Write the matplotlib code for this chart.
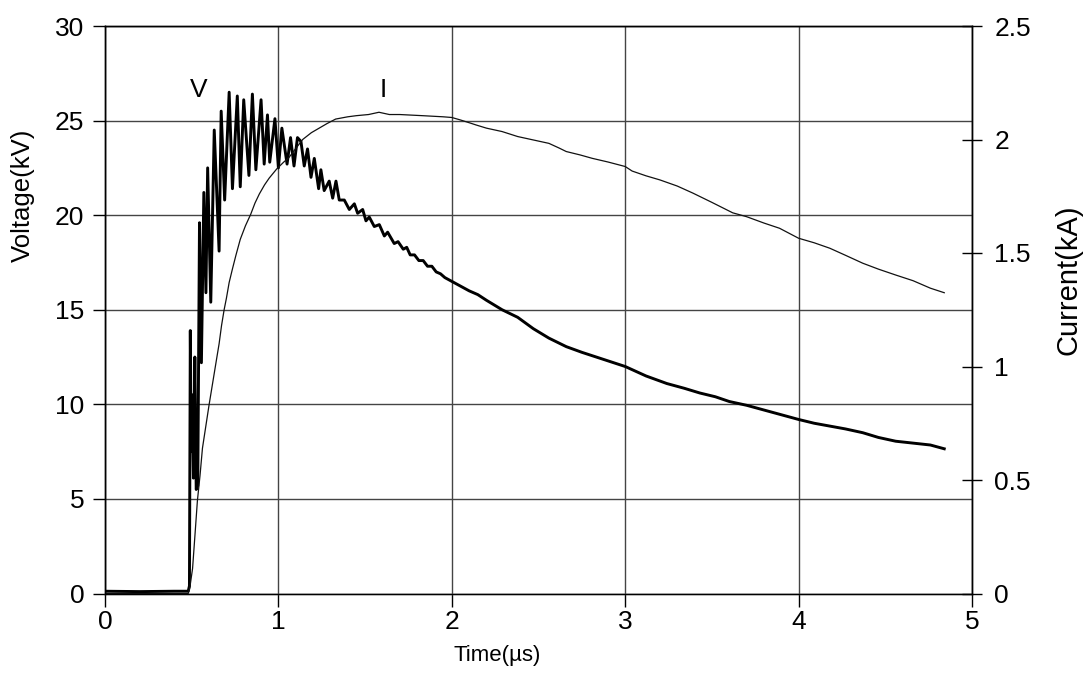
import matplotlib
matplotlib.use("Agg")
import matplotlib.pyplot as plt
import numpy as np

plt.rcParams["font.family"] = ["Liberation Sans", "DejaVu Sans"]
plt.rcParams["font.size"] = 19

# Voltage trace (kV) against time (us)
v_time = [
    0.00, 0.20, 0.40, 0.48, 0.487, 0.492, 0.497, 0.503, 0.510, 0.518,
    0.526, 0.535, 0.545, 0.556, 0.570, 0.582, 0.592, 0.610, 0.630, 0.658,
    0.670, 0.690, 0.716, 0.735, 0.763, 0.780, 0.800, 0.830, 0.850, 0.870,
    0.900, 0.918, 0.937, 0.950, 0.980, 1.000, 1.020, 1.050, 1.070, 1.090,
    1.110, 1.130, 1.149, 1.168, 1.188, 1.207, 1.232, 1.245, 1.264, 1.293,
    1.313, 1.332, 1.351, 1.380, 1.409, 1.438, 1.457, 1.486, 1.505, 1.524,
    1.553, 1.582, 1.611, 1.630, 1.668, 1.690, 1.720, 1.740, 1.760, 1.785,
    1.810, 1.835, 1.860, 1.885, 1.910, 1.935, 1.960, 2.000, 2.050, 2.100,
    2.150, 2.200, 2.290, 2.380, 2.470, 2.560, 2.660, 2.750, 2.850, 3.000,
    3.120, 3.240, 3.340, 3.430, 3.520, 3.600, 3.700, 3.800, 3.900, 4.000,
    4.090, 4.180, 4.270, 4.370, 4.460, 4.560, 4.660, 4.760, 4.840,
]
v_kv = [
    0.12, 0.10, 0.12, 0.12, 0.4, 13.9, 7.5, 10.5, 6.1, 12.5,
    5.5, 5.7, 19.6, 12.2, 21.2, 15.9, 22.5, 15.4, 24.5, 18.1,
    25.5, 20.8, 26.5, 21.4, 26.3, 21.5, 26.1, 22.1, 26.4, 22.4,
    26.1, 22.7, 25.3, 22.8, 25.1, 22.5, 24.6, 22.7, 24.1, 22.6,
    24.1, 23.9, 22.6, 23.5, 22.0, 23.0, 21.4, 22.4, 21.3, 21.8,
    20.9, 21.8, 20.8, 20.8, 20.3, 20.6, 20.1, 20.3, 19.7, 19.9,
    19.4, 19.5, 18.9, 19.1, 18.5, 18.6, 18.2, 18.3, 17.9, 17.9,
    17.6, 17.6, 17.3, 17.3, 17.0, 16.9, 16.7, 16.5, 16.25, 16.0,
    15.8, 15.5, 15.0, 14.6, 14.0, 13.5, 13.05, 12.75, 12.45, 12.0,
    11.5, 11.1, 10.85, 10.6, 10.4, 10.15, 9.95, 9.7, 9.45, 9.2,
    9.0, 8.85, 8.7, 8.5, 8.25, 8.05, 7.95, 7.85, 7.65,
]

# Current trace (kA) against time (us)
i_time = [
    0.00, 0.48, 0.49, 0.505, 0.52, 0.533, 0.548, 0.562, 0.58, 0.60,
    0.615, 0.63, 0.645, 0.658, 0.672, 0.687, 0.70, 0.716, 0.735, 0.755,
    0.78, 0.81, 0.84, 0.865, 0.89, 0.92, 0.947, 0.99, 1.03, 1.06,
    1.10, 1.14, 1.19, 1.235, 1.28, 1.33, 1.40, 1.45, 1.52, 1.58,
    1.61, 1.64, 1.70, 1.83, 1.95, 2.00, 2.05, 2.10, 2.14, 2.20,
    2.29, 2.38, 2.47, 2.56, 2.62, 2.66, 2.74, 2.81, 2.90, 3.00,
    3.04, 3.12, 3.20, 3.30, 3.39, 3.50, 3.62, 3.70, 3.80, 3.89,
    4.00, 4.09, 4.18, 4.27, 4.37, 4.46, 4.56, 4.66, 4.76, 4.84,
]
i_ka = [
    0.0, 0.0, 0.03, 0.11, 0.27, 0.41, 0.52, 0.64, 0.73, 0.83,
    0.90, 0.97, 1.04, 1.10, 1.18, 1.25, 1.30, 1.37, 1.43, 1.49,
    1.56, 1.62, 1.67, 1.72, 1.76, 1.80, 1.83, 1.87, 1.90, 1.92,
    1.96, 2.00, 2.03, 2.05, 2.07, 2.09, 2.10, 2.105, 2.11, 2.12,
    2.115, 2.11, 2.11, 2.105, 2.10, 2.097, 2.086, 2.074, 2.064, 2.05,
    2.035, 2.013, 1.998, 1.983, 1.962, 1.947, 1.932, 1.917, 1.901, 1.881,
    1.861, 1.84, 1.822, 1.795, 1.764, 1.723, 1.677, 1.66, 1.632, 1.609,
    1.565, 1.545, 1.521, 1.49, 1.455, 1.429, 1.403, 1.378, 1.345, 1.325,
]

x_ticks = [0, 1, 2, 3, 4, 5]
v_ticks = [0, 5, 10, 15, 20, 25, 30]
i_ticks = [0, 0.5, 1, 1.5, 2, 2.5]
i_tick_labels = ["0", "0.5", "1", "1.5", "2", "2.5"]

fig = plt.figure(figsize=(10.83, 6.77), dpi=100)
ax = fig.add_axes([105 / 1083, 1 - 593.5 / 677, 867 / 1083, 567.5 / 677])
ax2 = ax.twinx()

ax.plot(v_time, v_kv, color="black", lw=2.1)
ax2.plot(i_time, i_ka, color="#111111", lw=0.9)

ax.set_xlim(0, 5)
ax.set_ylim(0, 30)
ax2.set_ylim(0, 2.5)
ax.set_xticks(x_ticks)
ax.set_xticklabels([str(x) for x in x_ticks])
ax.set_yticks(v_ticks)
ax.set_yticklabels([str(v) for v in v_ticks])
ax2.set_yticks(i_ticks)
ax2.set_yticklabels(i_tick_labels)

ax.grid(True, color="#444444", lw=1.0)
ax.set_axisbelow(True)

ax.tick_params(axis="x", direction="out", length=9, width=1, pad=3, labelsize=19)
ax.tick_params(axis="y", direction="out", length=9, width=1, pad=6, labelsize=19)
ax2.tick_params(axis="y", direction="inout", length=14, width=1, pad=9, labelsize=19)

for a in (ax, ax2):
    for s in a.spines.values():
        s.set_color("black")
        s.set_linewidth(1.0)
ax.spines["bottom"].set_color("#777777")

# curve labels
ax.text(0.543, 26.6, "V", ha="center", va="center", fontsize=19)
ax.text(1.604, 26.6, "I", ha="center", va="center", fontsize=19)

# axis titles
fig.text(23 / 1083, 1 - 195 / 677, "Voltage(kV)", rotation=90,
         ha="center", va="center", fontsize=18.5)
fig.text(1068 / 1083, 1 - 280 / 677, "Current(kA)", rotation=90,
         ha="center", va="center", fontsize=21)
fig.text(497 / 1083, 1 - 656 / 677, "Time(µs)", ha="center", va="center",
         fontsize=16)

fig.savefig("out.png", dpi=100)
